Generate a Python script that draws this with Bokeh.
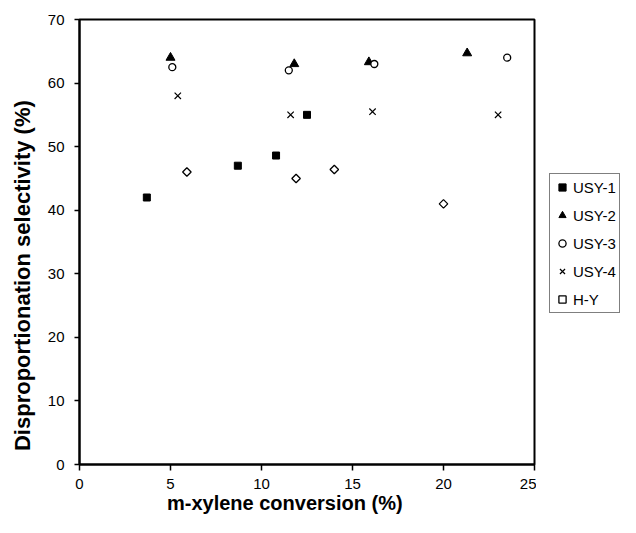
import numpy as np
from bokeh.plotting import figure
from bokeh.layouts import row
from bokeh.models import Legend, LegendItem, FixedTicker, Range1d
from bokeh.embed import file_html
from bokeh.resources import INLINE

# data
usy1_x = [3.7, 8.7, 10.8, 12.5]
usy1_y = [42.0, 47.0, 48.6, 55.0]
usy2_x = [5.0, 11.8, 15.9, 21.3]
usy2_y = [64.0, 63.0, 63.3, 64.7]
usy3_x = [5.1, 11.5, 16.2, 23.5]
usy3_y = [62.5, 62.0, 63.0, 64.0]
usy4_x = [5.4, 11.6, 16.1, 23.0]
usy4_y = [58.0, 55.0, 55.5, 55.0]
hy_x = [5.9, 11.9, 14.0, 20.0]
hy_y = [46.0, 45.0, 46.4, 41.0]

series_labels = ["USY-1", "USY-2", "USY-3", "USY-4", "H-Y"]
x_ticks = [0, 5, 10, 15, 20, 25]
y_ticks = [0, 10, 20, 30, 40, 50, 60, 70]

FONT = "Liberation Sans"
NBSP = "\u00a0"

p = figure(frame_width=455, frame_height=445, output_backend="svg", toolbar_location=None,
           x_range=Range1d(0, 25), y_range=Range1d(0, 70),
           min_border_left=79, min_border_right=2, min_border_top=19, min_border_bottom=53)

p.xgrid.visible = False
p.ygrid.visible = False
p.outline_line_color = "black"
p.outline_line_width = 2
p.background_fill_color = "white"
p.border_fill_color = "white"

for ax in (p.xaxis[0], p.yaxis[0]):
    ax.axis_line_color = "black"
    ax.axis_line_width = 2
    ax.major_tick_line_color = "black"
    ax.major_tick_line_width = 1.5
    ax.major_tick_in = 0
    ax.minor_tick_line_color = None
    ax.major_label_text_font = FONT
    ax.major_label_text_font_size = "15px"
    ax.major_label_text_color = "black"
    ax.axis_label_text_font = FONT
    ax.axis_label_text_font_style = "bold"
    ax.axis_label_text_color = "black"

p.xaxis.ticker = FixedTicker(ticks=x_ticks)
p.yaxis.ticker = FixedTicker(ticks=y_ticks)
p.xaxis.major_tick_out = 6
p.yaxis.major_tick_out = 5
p.xaxis.major_label_standoff = 8
p.yaxis.major_label_standoff = 10

p.xaxis.axis_label = "m-xylene conversion (%)" + NBSP * 8
p.xaxis.axis_label_text_font_size = "20px"
p.xaxis.axis_label_standoff = 0
p.yaxis.axis_label = "Disproportionation selectivity (%)" + NBSP * 11
p.yaxis.axis_label_text_font_size = "22px"
p.yaxis.axis_label_standoff = 10

styles = [
    dict(marker="square", size=7, fill_color="black", line_color="black"),
    dict(marker="triangle", size=9, fill_color="black", line_color="black"),
    dict(marker="circle", size=7, fill_color="white", line_color="black", line_width=1.3),
    dict(marker="x", size=9, line_color="black", line_width=1.2),
    dict(marker="square", angle=np.pi / 4, size=6, fill_color="white", line_color="black", line_width=1.3),
]
series = [(usy1_x, usy1_y), (usy2_x, usy2_y), (usy3_x, usy3_y), (usy4_x, usy4_y), (hy_x, hy_y)]

for (xs, ys), st in zip(series, styles):
    p.scatter(xs, ys, **st)

# legend panel (separate canvas to the right of the plot, no axes)
lf = figure(width=84, height=517, output_backend="svg", toolbar_location=None,
            x_range=Range1d(-1, 0), y_range=Range1d(-1, 0),
            x_axis_location=None, y_axis_location=None,
            min_border_left=0, min_border_right=0, min_border_top=0, min_border_bottom=0)
lf.grid.visible = False
lf.outline_line_color = None
lf.background_fill_color = "white"
lf.border_fill_color = "white"

items = []
for lab, (xs, ys), st in zip(series_labels, series, styles):
    # same series, but outside this panel's ranges: only the legend glyph shows
    r = lf.scatter(xs, ys, **st)
    items.append(LegendItem(label=lab, renderers=[r]))

legend = Legend(items=items, location=(13, 151))
legend.label_text_font = FONT
legend.label_text_font_size = "15px"
legend.label_text_color = "black"
legend.border_line_color = "black"
legend.border_line_width = 1
legend.background_fill_alpha = 1
legend.padding = 3
legend.spacing = 8
legend.glyph_width = 18
legend.glyph_height = 20
legend.label_height = 20
legend.label_standoff = 2
legend.margin = 0
lf.add_layout(legend, "center")

layout = row(p, lf, spacing=0)
open("out.html", "w").write(file_html(layout, INLINE))
